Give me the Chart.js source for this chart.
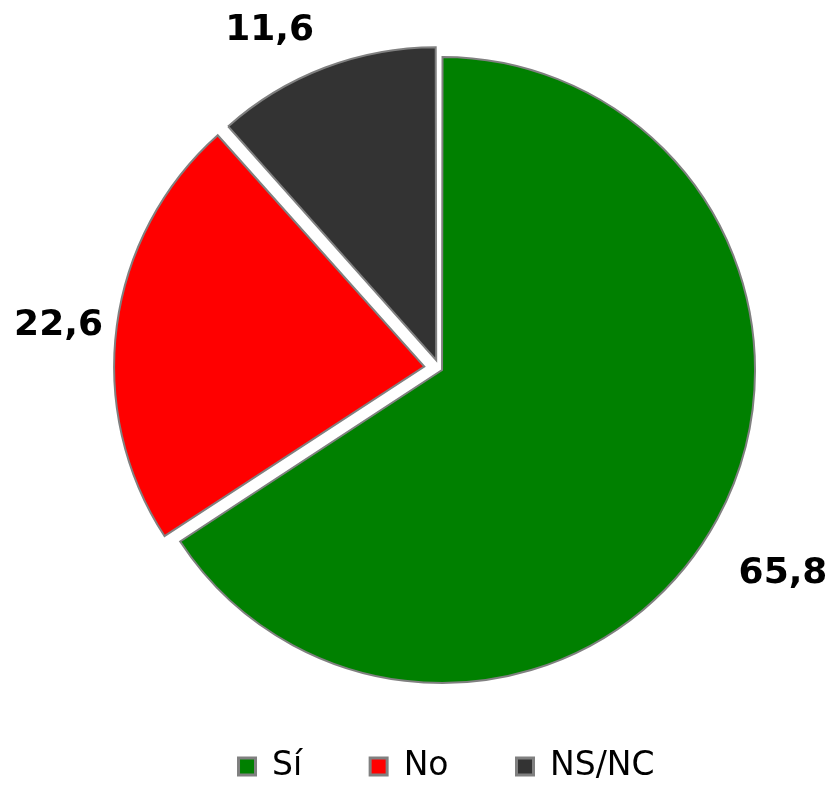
<!DOCTYPE html>
<html>
<head>
<meta charset="utf-8">
<script src="https://cdn.jsdelivr.net/npm/chart.js@4/dist/chart.umd.min.js"></script>
<style>
  html, body { margin: 0; padding: 0; background: #ffffff; }
  #wrap { width: 834px; height: 785px; }
</style>
</head>
<body>
<div id="wrap"><canvas id="c" width="834" height="785"></canvas></div>
<script>
// ---- data ----
const categories = ['Sí', 'No', 'NS/NC'];
const values = [65.8, 22.6, 11.6];
const sliceColors = ['#008000', '#FF0000', '#333333'];

// ---- style ----
const borderGray = '#808080';
const sliceOffsets = [12, 61, 36];
// label placement: angle shift (deg) and radial distance beyond the rim
const labelPlacement = [
  { dAngle: 2.43, dRad: 90.3 },
  { dAngle: -1.1, dRad: 73.3 },
  { dAngle: -5.83, dRad: 67.9 }
];

const fmt = v => v.toFixed(1).replace('.', ',');

const valueLabels = {
  id: 'valueLabels',
  afterDatasetsDraw(chart) {
    const meta = chart.getDatasetMeta(0);
    const ctx = chart.ctx;
    ctx.save();
    ctx.font = 'bold 36px "DejaVu Sans", Verdana, sans-serif';
    ctx.fillStyle = '#000000';
    ctx.textAlign = 'center';
    ctx.textBaseline = 'middle';
    meta.data.forEach((arc, i) => {
      const p = arc.getProps(['x', 'y', 'startAngle', 'endAngle', 'outerRadius'], true);
      const pl = labelPlacement[i];
      const a = (p.startAngle + p.endAngle) / 2 + pl.dAngle * Math.PI / 180;
      const r = p.outerRadius + pl.dRad;
      ctx.fillText(fmt(values[i]), p.x + Math.cos(a) * r, p.y + Math.sin(a) * r);
    });
    ctx.restore();
  }
};

const legendNudge = {
  id: 'legendNudge',
  afterLayout(chart) {
    const lg = chart.legend;
    if (!lg) return;
    lg.left += 7.1; lg.right += 7.1;
    lg.top += 8; lg.bottom += 8;
  }
};

new Chart(document.getElementById('c'), {
  type: 'pie',
  data: {
    labels: categories,
    datasets: [{
      data: values,
      backgroundColor: sliceColors,
      borderColor: borderGray,
      borderWidth: 2,
      borderJoinStyle: 'miter',
      offset: sliceOffsets,
      hoverOffset: 0,
      clip: false
    }]
  },
  options: {
    responsive: false,
    animation: false,
    radius: 310,
    rotation: 0,
    layout: { padding: { left: 44.8, right: 0, top: 63.2, bottom: 0 } },
    plugins: {
      tooltip: { enabled: false },
      legend: {
        position: 'bottom',
        labels: {
          font: { family: '"DejaVu Sans", Verdana, sans-serif', size: 33 },
          color: '#000000',
          boxWidth: 17,
          boxHeight: 17,
          padding: 68,
          generateLabels(chart) {
            const items = Chart.overrides.pie.plugins.legend.labels.generateLabels(chart);
            items.forEach(it => { it.lineWidth = 3; it.strokeStyle = borderGray; });
            return items;
          }
        }
      }
    }
  },
  plugins: [valueLabels, legendNudge]
});
</script>
</body>
</html>
